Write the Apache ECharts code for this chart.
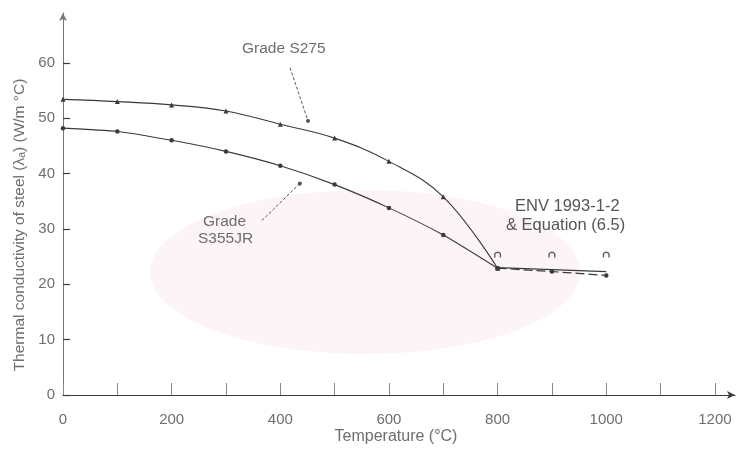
<!DOCTYPE html>
<html>
<head>
<meta charset="utf-8">
<script src="https://cdn.jsdelivr.net/npm/echarts@6/dist/echarts.min.js"></script>
<style>
  html, body { margin: 0; padding: 0; background: #ffffff; }
  #chart { width: 739px; height: 454px; }
</style>
</head>
<body>
<div id="chart"></div>
<script>
// Temperatures (°C) at which the conductivity was measured
const temps = [0, 100, 200, 300, 400, 500, 600, 700, 800, 900, 1000];
// Grade S275: fitted curve up to 800 °C, markers on it up to 700 °C
const s275Temps = [0, 100, 200, 300, 400, 500, 600, 700, 800];
const s275Values = [53.4, 53.0, 52.4, 51.3, 48.9, 46.4, 42.2, 35.8, 22.9];
// Grade S275 readings above 800 °C
const s275HighTemps = [800, 900, 1000];
const s275HighValues = [25.4, 25.4, 25.4];
// Grade S355JR
const s355Values = [48.2, 47.6, 46.0, 44.0, 41.4, 38.0, 33.8, 28.9, 22.9, 22.3, 21.6];
// ENV 1993-1-2 & Equation (6.5) above 800 °C
const envTemps = [800, 1000];
const envValues = [23.0, 22.3];
// Axis ticks and labels
const xTickValues = [0, 100, 200, 300, 400, 500, 600, 700, 800, 900, 1000, 1100, 1200];
const xLabelValues = [0, 200, 400, 600, 800, 1000, 1200];
const yLabelValues = [0, 10, 20, 30, 40, 50, 60];

const ink = '#3a3a3a';
const textGrey = '#6e6e6e';
const font = 'Liberation Sans, Arial, sans-serif';

const pairs = (xs, ys) => xs.map((x, i) => [x, ys[i]]);

const chart = echarts.init(document.getElementById('chart'), null, { renderer: 'canvas' });

chart.setOption({
  animation: false,
  backgroundColor: '#ffffff',
  textStyle: { fontFamily: font },
  grid: { left: 63, right: 4, top: 13, bottom: 59, containLabel: false },
  xAxis: {
    type: 'value',
    min: 0,
    max: 1237,
    interval: 100,
    axisLine: { show: true, symbol: ['none', 'arrow'], symbolSize: [6, 8], lineStyle: { color: ink, width: 1.2 } },
    axisTick: { show: true, inside: true, length: 12, customValues: xTickValues, lineStyle: { color: '#888', width: 1 } },
    axisLabel: {
      customValues: xLabelValues, color: textGrey, fontSize: 15, margin: 17, fontFamily: font,
      formatter: v => String(v)
    },
    splitLine: { show: false }
  },
  yAxis: {
    type: 'value',
    min: 0,
    max: 69,
    interval: 10,
    axisLine: { show: true, symbol: ['none', 'arrow'], symbolSize: [6, 8], lineStyle: { color: '#777', width: 1 } },
    axisTick: { show: true, inside: true, length: 7, customValues: yLabelValues, lineStyle: { color: ink, width: 1.2 } },
    axisLabel: { customValues: yLabelValues, color: textGrey, fontSize: 15, margin: 8, fontFamily: font },
    splitLine: { show: false }
  },
  graphic: [
    {
      type: 'ellipse', z: -10, silent: true,
      shape: { cx: 365, cy: 272, rx: 215, ry: 82 },
      style: { fill: 'rgba(240, 200, 215, 0.2)' }
    },
    {
      type: 'text', x: 396, y: 437,
      style: { text: 'Temperature (°C)', fill: textGrey, font: '16px ' + font, textAlign: 'center', textVerticalAlign: 'middle' }
    },
    {
      type: 'text', x: 20, y: 225, rotation: Math.PI / 2,
      style: { text: 'Thermal conductivity of steel (λₐ) (W/m °C)', fill: textGrey, font: '15.5px ' + font, textAlign: 'center', textVerticalAlign: 'middle' }
    },
    { type: 'text', left: 242, top: 41, style: { text: 'Grade S275', fill: textGrey, font: '15.5px ' + font } },
    { type: 'text', left: 203, top: 214, style: { text: 'Grade', fill: textGrey, font: '15.5px ' + font } },
    { type: 'text', left: 198, top: 231, style: { text: 'S355JR', fill: textGrey, font: '15.5px ' + font } },
    { type: 'text', left: 515, top: 198, style: { text: 'ENV 1993-1-2', fill: '#555', font: '16.5px ' + font } },
    { type: 'text', left: 506, top: 217, style: { text: '& Equation (6.5)', fill: '#555', font: '16.5px ' + font } }
  ],
  series: [
    {
      name: 'Grade S275',
      type: 'line',
      smooth: 0.4,
      data: pairs(s275Temps, s275Values),
      symbol: 'triangle',
      symbolSize: 5,
      showAllSymbol: true,
      itemStyle: { color: ink },
      lineStyle: { color: ink, width: 1.1 },
      markLine: {
        silent: true,
        symbol: ['none', 'circle'],
        symbolSize: 4,
        label: { show: false },
        lineStyle: { color: '#555', width: 1, type: [3, 2] },
        data: [[{ coord: [418, 59.1] }, { coord: [451, 49.5] }]]
      }
    },
    {
      name: 'Grade S275 above 800 °C',
      type: 'scatter',
      data: pairs(s275HighTemps, s275HighValues),
      symbol: 'path://M0,10 L0,4 Q5,-2 10,4 L10,10 L8,10 L8,5 Q5,1.5 2,5 L2,10 Z',
      symbolSize: [7, 6],
      itemStyle: { color: ink }
    },
    {
      name: 'Grade S355JR',
      type: 'line',
      smooth: 0.2,
      data: pairs(temps.slice(0, 9), s355Values.slice(0, 9)),
      symbol: 'circle',
      symbolSize: 4.5,
      itemStyle: { color: ink },
      lineStyle: { color: ink, width: 1.1 },
      markLine: {
        silent: true,
        symbol: ['none', 'circle'],
        symbolSize: 4,
        label: { show: false },
        lineStyle: { color: '#555', width: 1, type: [3, 2] },
        data: [[{ coord: [366, 31.5] }, { coord: [436, 38.2] }]]
      }
    },
    {
      name: 'Grade S355JR above 800 °C',
      type: 'line',
      data: pairs(temps.slice(8), s355Values.slice(8)),
      symbol: 'circle',
      symbolSize: 4.5,
      itemStyle: { color: ink },
      lineStyle: { color: ink, width: 1.2, type: [9, 4] }
    },
    {
      name: 'ENV 1993-1-2 & Equation (6.5)',
      type: 'line',
      data: pairs(envTemps, envValues),
      symbol: 'none',
      lineStyle: { color: ink, width: 1.3 }
    }
  ]
});
</script>
</body>
</html>
